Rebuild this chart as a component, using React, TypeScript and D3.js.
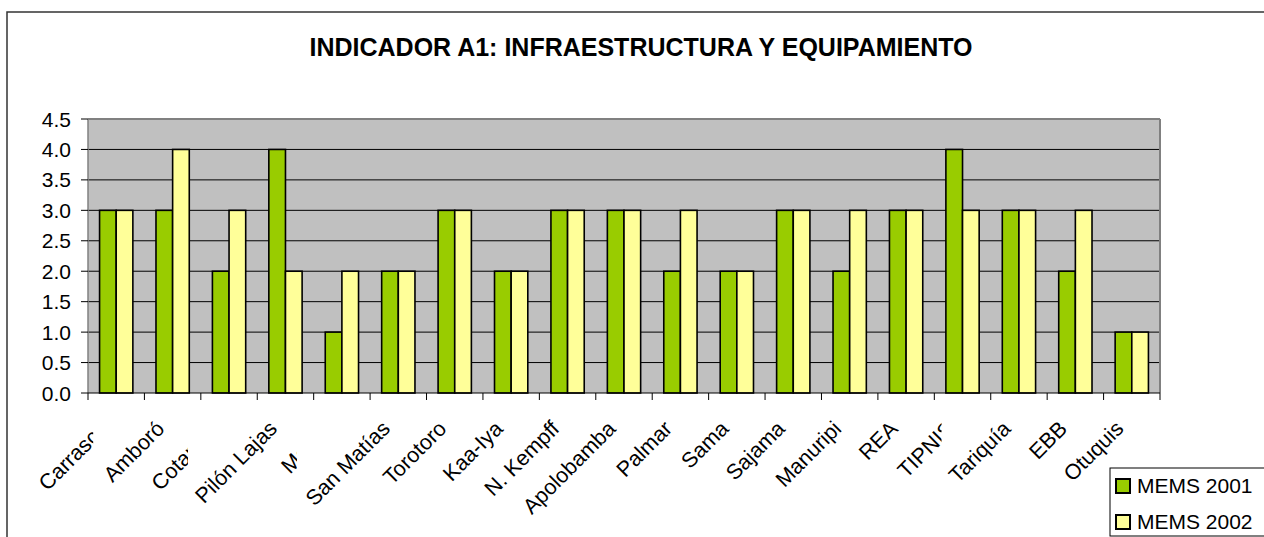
import React from "react";
import * as d3 from "d3";

const categories = [
  "Carrasco", "Amboró", "Cotapata", "Pilón Lajas", "Madidi", "San Matías",
  "Torotoro", "Kaa-Iya", "N. Kempff", "Apolobamba", "Palmar", "Sama",
  "Sajama", "Manuripi", "REA", "TIPNIS", "Tariquía", "EBB", "Otuquis",
];
const mems2001 = [3, 3, 2, 4, 1, 2, 3, 2, 3, 3, 2, 2, 3, 2, 3, 4, 3, 2, 1];
const mems2002 = [3, 4, 3, 2, 2, 2, 3, 2, 3, 3, 3, 2, 3, 3, 3, 3, 3, 3, 1];
const yTicks = [0, 0.5, 1, 1.5, 2, 2.5, 3, 3.5, 4, 4.5];
const seriesNames = ["MEMS 2001", "MEMS 2002"];
const seriesColors = ["#99CC00", "#FFFF99"];
const title = "INDICADOR A1: INFRAESTRUCTURA Y EQUIPAMIENTO";

// labels that Excel clipped (index -> visible right limit relative to category centre)
const clipped: Record<number, number> = { 0: -23, 2: -41, 4: -45, 15: -21 };

const W = 1264;
const H = 537;
const FONT = "'Liberation Sans', Arial, sans-serif";

export default function App() {
  const left = 88, right = 1160, top = 119, bottom = 393;
  const x = d3.scaleBand<string>().domain(categories).range([left, right]).paddingInner(0.41).paddingOuter(0.205);
  const step = x.step();
  const xs = d3.scaleBand<string>().domain(seriesNames).range([0, x.bandwidth()]);
  const y = d3.scaleLinear().domain([0, 4.5]).range([bottom, top]);
  const series = [mems2001, mems2002];
  const catStart = (i: number) => left + i * step;
  const center = (i: number) => left + (i + 0.5) * step;

  return (
    <svg width={W} height={H} style={{ position: "absolute", left: 0, top: 0, fontFamily: FONT }}>
      <defs>
        {categories.map((c, i) =>
          clipped[i] !== undefined ? (
            <clipPath id={`clip${i}`} key={c}>
              <rect x={0} y={0} width={center(i) + clipped[i]} height={H} />
            </clipPath>
          ) : null
        )}
      </defs>
      <rect x={0} y={0} width={W} height={H} fill="#fff" />
      <rect x={7} y={12} width={W + 20} height={H + 20} fill="none" stroke="#333" strokeWidth={1.5} />
      <text x={641} y={56} textAnchor="middle" fontWeight="bold" fontSize={25} fill="#000">{title}</text>

      <rect x={left} y={top} width={right - left} height={bottom - top} fill="#C0C0C0" />
      {yTicks.slice(1, -1).map((t) => (
        <line key={t} x1={left} x2={right} y1={y(t)} y2={y(t)} stroke="#000" strokeWidth={1} />
      ))}
      <line x1={left} x2={right} y1={top} y2={top} stroke="#808080" strokeWidth={2} />
      <line x1={right} x2={right} y1={top} y2={bottom} stroke="#808080" strokeWidth={2} />
      <line x1={left} x2={left} y1={top} y2={bottom} stroke="#808080" strokeWidth={1.5} />

      {categories.map((c, i) =>
        series.map((vals, s) => (
          <rect
            key={c + s}
            x={(x(c) ?? 0) + (xs(seriesNames[s]) ?? 0)}
            y={y(vals[i])}
            width={xs.bandwidth()}
            height={bottom - y(vals[i])}
            fill={seriesColors[s]}
            stroke="#000"
            strokeWidth={1.6}
          />
        ))
      )}

      <line x1={left} x2={right} y1={bottom} y2={bottom} stroke="#000" strokeWidth={1.2} />
      {d3.range(categories.length + 1).map((k) => (
        <line key={k} x1={catStart(k)} x2={catStart(k)} y1={bottom} y2={bottom + 7} stroke="#000" strokeWidth={1} />
      ))}
      {yTicks.map((t) => (
        <g key={t}>
          <line x1={left - 7} x2={left} y1={y(t)} y2={y(t)} stroke="#000" strokeWidth={1} />
          <text x={71} y={y(t)} dy="0.36em" textAnchor="end" fontSize={21} fill="#000">{t.toFixed(1)}</text>
        </g>
      ))}

      {categories.map((c, i) => (
        <g key={c} clipPath={clipped[i] !== undefined ? `url(#clip${i})` : undefined}>
          <text
            transform={`translate(${center(i) - 7},430) rotate(-45)`}
            textAnchor="end"
            fontSize={21.5}
            fill="#000"
          >
            {c}
          </text>
        </g>
      ))}

      <rect x={1110} y={468} width={200} height={68} fill="#fff" stroke="#000" strokeWidth={1} />
      {seriesNames.map((n, s) => (
        <g key={n}>
          <rect x={1116} y={479 + s * 36} width={14} height={14} fill={seriesColors[s]} stroke="#000" strokeWidth={2} />
          <text x={1137} y={493 + s * 36} fontSize={21} fill="#000">{n}</text>
        </g>
      ))}
    </svg>
  );
}
